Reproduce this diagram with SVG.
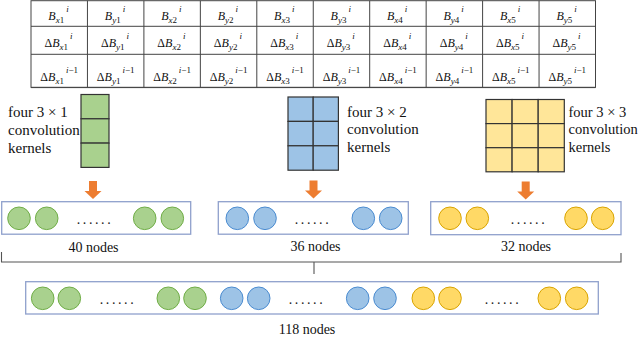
<svg xmlns="http://www.w3.org/2000/svg" width="640" height="337" viewBox="0 0 640 337">
<defs>
<style>
.tb{fill:#fff;stroke:#444;stroke-width:1}
.tl{stroke:#444;stroke-width:1}
.tt{font-family:"Liberation Serif","DejaVu Serif",serif;font-size:12px;fill:#111;text-anchor:middle}
.it{font-style:italic}
.lbl{font-family:"Liberation Serif","DejaVu Serif",serif;font-size:15px;fill:#111}
.lbl3{font-size:14.5px}
.cap{font-family:"Liberation Serif","DejaVu Serif",serif;font-size:14px;fill:#111;text-anchor:middle}
.dots{font-family:"Liberation Serif","DejaVu Serif",serif;font-size:14px;fill:#222;text-anchor:middle;letter-spacing:2.6px}
.kg{fill:#A9D18E;stroke:#333;stroke-width:1.2}
.kb{fill:#9DC3E6;stroke:#333;stroke-width:1.2}
.ky{fill:#FFE699;stroke:#333;stroke-width:1.2}
.cg{fill:#A9D18E;stroke:#70AD47;stroke-width:1}
.cb{fill:#9DC3E6;stroke:#4A8BD0;stroke-width:1}
.cy{fill:#FFD966;stroke:#D9A400;stroke-width:1}
.box{fill:#fff;stroke:#8FA0CC;stroke-width:1.3}
.arr{fill:#ED7D31}
.br{fill:none;stroke:#555;stroke-width:1.1}
</style>
</defs>

<g id="table">
<rect class="tb" x="31" y="0.7" width="564.5" height="86.6"/>
<line class="tl" x1="31" y1="26.3" x2="595.5" y2="26.3"/>
<line class="tl" x1="31" y1="54.3" x2="595.5" y2="54.3"/>
<line class="tl" x1="31" y1="87.6" x2="595.5" y2="87.6" stroke-width="1.6"/>
<g class="tl">
<line x1="87.45" y1="0.7" x2="87.45" y2="87.3"/>
<line x1="143.9" y1="0.7" x2="143.9" y2="87.3"/>
<line x1="200.35" y1="0.7" x2="200.35" y2="87.3"/>
<line x1="256.8" y1="0.7" x2="256.8" y2="87.3"/>
<line x1="313.25" y1="0.7" x2="313.25" y2="87.3"/>
<line x1="369.7" y1="0.7" x2="369.7" y2="87.3"/>
<line x1="426.15" y1="0.7" x2="426.15" y2="87.3"/>
<line x1="482.6" y1="0.7" x2="482.6" y2="87.3"/>
<line x1="539.05" y1="0.7" x2="539.05" y2="87.3"/>
</g>
<!-- row 1 -->
<text class="tt" x="58.5" y="20"><tspan class="it">B</tspan><tspan font-size="9" dy="3"><tspan class="it">x</tspan>1</tspan><tspan font-size="9" class="it" dx="2" dy="-11">i</tspan></text>
<text class="tt" x="115" y="20"><tspan class="it">B</tspan><tspan font-size="9" dy="3"><tspan class="it">y</tspan>1</tspan><tspan font-size="9" class="it" dx="2" dy="-11">i</tspan></text>
<text class="tt" x="171.4" y="20"><tspan class="it">B</tspan><tspan font-size="9" dy="3"><tspan class="it">x</tspan>2</tspan><tspan font-size="9" class="it" dx="2" dy="-11">i</tspan></text>
<text class="tt" x="227.9" y="20"><tspan class="it">B</tspan><tspan font-size="9" dy="3"><tspan class="it">y</tspan>2</tspan><tspan font-size="9" class="it" dx="2" dy="-11">i</tspan></text>
<text class="tt" x="284.3" y="20"><tspan class="it">B</tspan><tspan font-size="9" dy="3"><tspan class="it">x</tspan>3</tspan><tspan font-size="9" class="it" dx="2" dy="-11">i</tspan></text>
<text class="tt" x="340.8" y="20"><tspan class="it">B</tspan><tspan font-size="9" dy="3"><tspan class="it">y</tspan>3</tspan><tspan font-size="9" class="it" dx="2" dy="-11">i</tspan></text>
<text class="tt" x="397.2" y="20"><tspan class="it">B</tspan><tspan font-size="9" dy="3"><tspan class="it">x</tspan>4</tspan><tspan font-size="9" class="it" dx="2" dy="-11">i</tspan></text>
<text class="tt" x="453.7" y="20"><tspan class="it">B</tspan><tspan font-size="9" dy="3"><tspan class="it">y</tspan>4</tspan><tspan font-size="9" class="it" dx="2" dy="-11">i</tspan></text>
<text class="tt" x="510.1" y="20"><tspan class="it">B</tspan><tspan font-size="9" dy="3"><tspan class="it">x</tspan>5</tspan><tspan font-size="9" class="it" dx="2" dy="-11">i</tspan></text>
<text class="tt" x="566.6" y="20"><tspan class="it">B</tspan><tspan font-size="9" dy="3"><tspan class="it">y</tspan>5</tspan><tspan font-size="9" class="it" dx="2" dy="-11">i</tspan></text>
<!-- row 2 -->
<text class="tt" x="58.5" y="46.5">Δ<tspan class="it">B</tspan><tspan font-size="9" dy="3"><tspan class="it">x</tspan>1</tspan><tspan font-size="9" class="it" dx="2" dy="-11">i</tspan></text>
<text class="tt" x="115" y="46.5">Δ<tspan class="it">B</tspan><tspan font-size="9" dy="3"><tspan class="it">y</tspan>1</tspan><tspan font-size="9" class="it" dx="2" dy="-11">i</tspan></text>
<text class="tt" x="171.4" y="46.5">Δ<tspan class="it">B</tspan><tspan font-size="9" dy="3"><tspan class="it">x</tspan>2</tspan><tspan font-size="9" class="it" dx="2" dy="-11">i</tspan></text>
<text class="tt" x="227.9" y="46.5">Δ<tspan class="it">B</tspan><tspan font-size="9" dy="3"><tspan class="it">y</tspan>2</tspan><tspan font-size="9" class="it" dx="2" dy="-11">i</tspan></text>
<text class="tt" x="284.3" y="46.5">Δ<tspan class="it">B</tspan><tspan font-size="9" dy="3"><tspan class="it">x</tspan>3</tspan><tspan font-size="9" class="it" dx="2" dy="-11">i</tspan></text>
<text class="tt" x="340.8" y="46.5">Δ<tspan class="it">B</tspan><tspan font-size="9" dy="3"><tspan class="it">y</tspan>3</tspan><tspan font-size="9" class="it" dx="2" dy="-11">i</tspan></text>
<text class="tt" x="397.2" y="46.5">Δ<tspan class="it">B</tspan><tspan font-size="9" dy="3"><tspan class="it">x</tspan>4</tspan><tspan font-size="9" class="it" dx="2" dy="-11">i</tspan></text>
<text class="tt" x="453.7" y="46.5">Δ<tspan class="it">B</tspan><tspan font-size="9" dy="3"><tspan class="it">y</tspan>4</tspan><tspan font-size="9" class="it" dx="2" dy="-11">i</tspan></text>
<text class="tt" x="510.1" y="46.5">Δ<tspan class="it">B</tspan><tspan font-size="9" dy="3"><tspan class="it">x</tspan>5</tspan><tspan font-size="9" class="it" dx="2" dy="-11">i</tspan></text>
<text class="tt" x="566.6" y="46.5">Δ<tspan class="it">B</tspan><tspan font-size="9" dy="3"><tspan class="it">y</tspan>5</tspan><tspan font-size="9" class="it" dx="2" dy="-11">i</tspan></text>
<!-- row 3 -->
<text class="tt" x="59.2" y="80.5">Δ<tspan class="it">B</tspan><tspan font-size="9" dy="3"><tspan class="it">x</tspan>1</tspan><tspan font-size="9" dx="2" dy="-11"><tspan class="it">i</tspan>−1</tspan></text>
<text class="tt" x="115.7" y="80.5">Δ<tspan class="it">B</tspan><tspan font-size="9" dy="3"><tspan class="it">y</tspan>1</tspan><tspan font-size="9" dx="2" dy="-11"><tspan class="it">i</tspan>−1</tspan></text>
<text class="tt" x="172.1" y="80.5">Δ<tspan class="it">B</tspan><tspan font-size="9" dy="3"><tspan class="it">x</tspan>2</tspan><tspan font-size="9" dx="2" dy="-11"><tspan class="it">i</tspan>−1</tspan></text>
<text class="tt" x="228.6" y="80.5">Δ<tspan class="it">B</tspan><tspan font-size="9" dy="3"><tspan class="it">y</tspan>2</tspan><tspan font-size="9" dx="2" dy="-11"><tspan class="it">i</tspan>−1</tspan></text>
<text class="tt" x="285" y="80.5">Δ<tspan class="it">B</tspan><tspan font-size="9" dy="3"><tspan class="it">x</tspan>3</tspan><tspan font-size="9" dx="2" dy="-11"><tspan class="it">i</tspan>−1</tspan></text>
<text class="tt" x="341.5" y="80.5">Δ<tspan class="it">B</tspan><tspan font-size="9" dy="3"><tspan class="it">y</tspan>3</tspan><tspan font-size="9" dx="2" dy="-11"><tspan class="it">i</tspan>−1</tspan></text>
<text class="tt" x="397.9" y="80.5">Δ<tspan class="it">B</tspan><tspan font-size="9" dy="3"><tspan class="it">x</tspan>4</tspan><tspan font-size="9" dx="2" dy="-11"><tspan class="it">i</tspan>−1</tspan></text>
<text class="tt" x="454.4" y="80.5">Δ<tspan class="it">B</tspan><tspan font-size="9" dy="3"><tspan class="it">y</tspan>4</tspan><tspan font-size="9" dx="2" dy="-11"><tspan class="it">i</tspan>−1</tspan></text>
<text class="tt" x="510.8" y="80.5">Δ<tspan class="it">B</tspan><tspan font-size="9" dy="3"><tspan class="it">x</tspan>5</tspan><tspan font-size="9" dx="2" dy="-11"><tspan class="it">i</tspan>−1</tspan></text>
<text class="tt" x="567.3" y="80.5">Δ<tspan class="it">B</tspan><tspan font-size="9" dy="3"><tspan class="it">y</tspan>5</tspan><tspan font-size="9" dx="2" dy="-11"><tspan class="it">i</tspan>−1</tspan></text>
</g>

<g id="kernel1">
<rect class="kg" x="81" y="94.5" width="28" height="24.3"/>
<rect class="kg" x="81" y="118.8" width="28" height="24.3"/>
<rect class="kg" x="81" y="143.1" width="28" height="24.3"/>
<text class="lbl" x="8" y="117">four 3 × 1</text>
<text class="lbl" x="8" y="135">convolution</text>
<text class="lbl" x="8" y="153">kernels</text>
</g>

<g id="kernel2">
<rect class="kb" x="288" y="97" width="25.2" height="24.4"/>
<rect class="kb" x="313.2" y="97" width="25.2" height="24.4"/>
<rect class="kb" x="288" y="121.4" width="25.2" height="24.4"/>
<rect class="kb" x="313.2" y="121.4" width="25.2" height="24.4"/>
<rect class="kb" x="288" y="145.8" width="25.2" height="24.4"/>
<rect class="kb" x="313.2" y="145.8" width="25.2" height="24.4"/>
<text class="lbl" x="347" y="116.5">four 3 × 2</text>
<text class="lbl" x="347" y="134">convolution</text>
<text class="lbl" x="347" y="151.5">kernels</text>
</g>

<g id="kernel3">
<rect class="ky" x="486" y="99.5" width="26.1" height="24.1"/>
<rect class="ky" x="512.1" y="99.5" width="26.1" height="24.1"/>
<rect class="ky" x="538.2" y="99.5" width="26.1" height="24.1"/>
<rect class="ky" x="486" y="123.6" width="26.1" height="24.1"/>
<rect class="ky" x="512.1" y="123.6" width="26.1" height="24.1"/>
<rect class="ky" x="538.2" y="123.6" width="26.1" height="24.1"/>
<rect class="ky" x="486" y="147.7" width="26.1" height="24.1"/>
<rect class="ky" x="512.1" y="147.7" width="26.1" height="24.1"/>
<rect class="ky" x="538.2" y="147.7" width="26.1" height="24.1"/>
<text class="lbl lbl3" x="568.5" y="116.5">four 3 × 3</text>
<text class="lbl lbl3" x="568.5" y="134">convolution</text>
<text class="lbl lbl3" x="568.5" y="151.5">kernels</text>
</g>

<g id="connectors">
<path class="arr" d="M89,181 h8 v10 h4.5 l-8.5,8 l-8.5,-8 h4.5 z"/>
<path class="arr" d="M309.5,180.5 h8 v10 h4.5 l-8.5,8 l-8.5,-8 h4.5 z"/>
<path class="arr" d="M521.7,181.5 h8 v10 h4.5 l-8.5,8 l-8.5,-8 h4.5 z"/>
<path class="br" d="M1.5,252 v10 H621 v-9 M314,262 v12"/>
</g>

<g id="layer1">
<rect class="box" x="1.7" y="201.7" width="189" height="32.5"/>
<circle class="cg" cx="19" cy="218.3" r="11.3"/>
<circle class="cg" cx="46.7" cy="218.3" r="11.3"/>
<text class="dots" x="95" y="224">......</text>
<circle class="cg" cx="144.7" cy="218.3" r="11.3"/>
<circle class="cg" cx="172.3" cy="218.3" r="11.3"/>
<text class="cap" x="93.5" y="252">40 nodes</text>
</g>

<g id="layer2">
<rect class="box" x="218.3" y="201.7" width="190" height="32.5"/>
<circle class="cb" cx="237.3" cy="218.3" r="11.3"/>
<circle class="cb" cx="265" cy="218.3" r="11.3"/>
<text class="dots" x="313" y="224">......</text>
<circle class="cb" cx="363.3" cy="218.3" r="11.3"/>
<circle class="cb" cx="390.7" cy="218.3" r="11.3"/>
<text class="cap" x="315.5" y="251">36 nodes</text>
</g>

<g id="layer3">
<rect class="box" x="430.7" y="201.7" width="190.3" height="33"/>
<circle class="cy" cx="450" cy="218.3" r="11.3"/>
<circle class="cy" cx="477.3" cy="218.3" r="11.3"/>
<text class="dots" x="529" y="224">......</text>
<circle class="cy" cx="576" cy="218.3" r="11.3"/>
<circle class="cy" cx="602.7" cy="218.3" r="11.3"/>
<text class="cap" x="526" y="251">32 nodes</text>
</g>

<g id="merged">
<rect class="box" x="25.7" y="281.7" width="572.6" height="32.3"/>
<circle class="cg" cx="42.7" cy="298.3" r="11.3"/>
<circle class="cg" cx="69.3" cy="298.3" r="11.3"/>
<text class="dots" x="118" y="303.5">......</text>
<circle class="cg" cx="168.3" cy="298.3" r="11.3"/>
<circle class="cg" cx="195" cy="298.3" r="11.3"/>
<circle class="cb" cx="231.7" cy="298.3" r="11.3"/>
<circle class="cb" cx="258.7" cy="298.3" r="11.3"/>
<text class="dots" x="307" y="303.5">......</text>
<circle class="cb" cx="357.7" cy="298.3" r="11.3"/>
<circle class="cb" cx="385" cy="298.3" r="11.3"/>
<circle class="cy" cx="423.3" cy="298.3" r="11.3"/>
<circle class="cy" cx="450" cy="298.3" r="11.3"/>
<text class="dots" x="503" y="303.5">......</text>
<circle class="cy" cx="549.3" cy="298.3" r="11.3"/>
<circle class="cy" cx="576.7" cy="298.3" r="11.3"/>
<text class="cap" x="307" y="334">118 nodes</text>
</g>
</svg>
